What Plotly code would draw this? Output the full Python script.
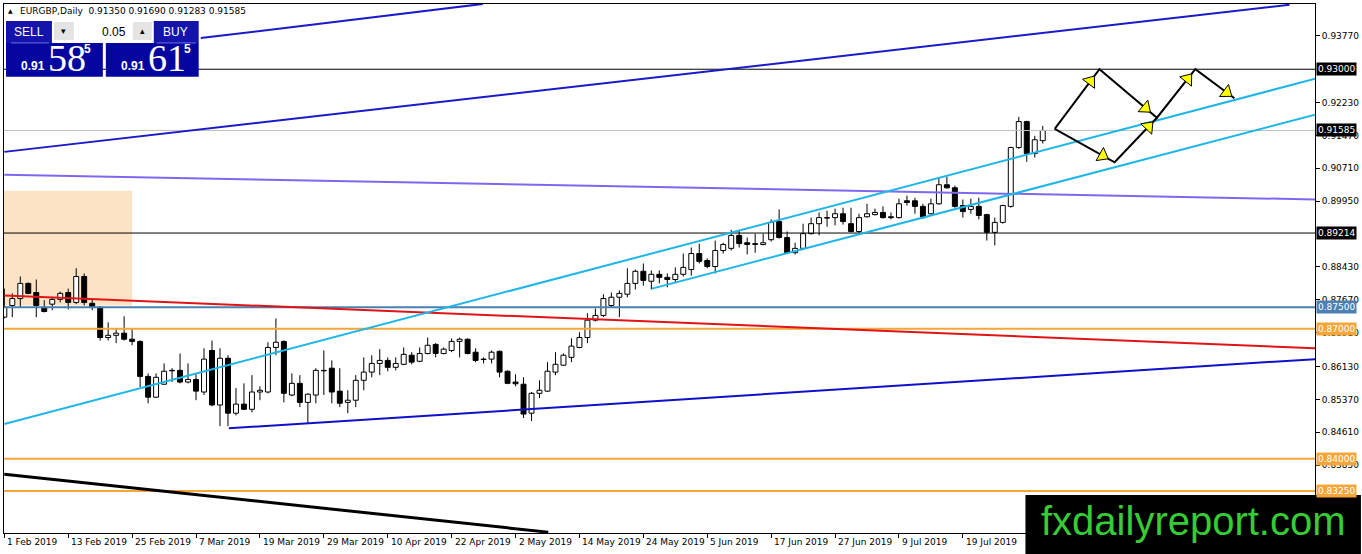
import math
import plotly.graph_objects as go

# EURGBP daily bars, 1 Feb 2019 .. 2 Aug 2019 (bar index 0..130)
open_ = [0.8727, 0.8754, 0.8770, 0.8805, 0.8784, 0.8750, 0.8757, 0.8768, 0.8784, 0.8761,
         0.8821, 0.8759, 0.8750, 0.8680, 0.8685, 0.8690, 0.8676, 0.8671, 0.8590, 0.8542,
         0.8572, 0.8604, 0.8604, 0.8577, 0.8583, 0.8554, 0.8650, 0.8524, 0.8632, 0.8505,
         0.8526, 0.8514, 0.8554, 0.8554, 0.8657, 0.8671, 0.8547, 0.8574, 0.8530, 0.8547,
         0.8603, 0.8609, 0.8556, 0.8530, 0.8535, 0.8581, 0.8600, 0.8620, 0.8627, 0.8611,
         0.8618, 0.8639, 0.8625, 0.8643, 0.8664, 0.8643, 0.8650, 0.8671, 0.8676, 0.8646,
         0.8630, 0.8630, 0.8648, 0.8602, 0.8577, 0.8572, 0.8505, 0.8551, 0.8556, 0.8600,
         0.8616, 0.8634, 0.8657, 0.8680, 0.8720, 0.8731, 0.8754, 0.8773, 0.8780, 0.8805,
         0.8833, 0.8810, 0.8826, 0.8819, 0.8814, 0.8826, 0.8837, 0.8874, 0.8858, 0.8844,
         0.8881, 0.8886, 0.8916, 0.8899, 0.8895, 0.8895, 0.8906, 0.8948, 0.8911, 0.8876,
         0.8886, 0.8920, 0.8943, 0.8957, 0.8957, 0.8966, 0.8943, 0.8925, 0.8959, 0.8964,
         0.8969, 0.8959, 0.8957, 0.8996, 0.8996, 0.8983, 0.8966, 0.8989, 0.9033, 0.9026,
         0.8985, 0.8976, 0.8983, 0.8964, 0.8923, 0.8946, 0.8983, 0.9119, 0.9179, 0.9105,
         0.91350]
high_ = [0.8793, 0.8782, 0.8821, 0.8807, 0.8814, 0.8766, 0.8773, 0.8786, 0.8793, 0.8840,
         0.8828, 0.8768, 0.8752, 0.8715, 0.8701, 0.8729, 0.8699, 0.8673, 0.8597, 0.8597,
         0.8620, 0.8609, 0.8643, 0.8620, 0.8595, 0.8655, 0.8673, 0.8655, 0.8639, 0.8563,
         0.8574, 0.8593, 0.8567, 0.8669, 0.8724, 0.8673, 0.8597, 0.8593, 0.8551, 0.8609,
         0.8650, 0.8627, 0.8609, 0.8558, 0.8593, 0.8634, 0.8639, 0.8653, 0.8634, 0.8634,
         0.8657, 0.8646, 0.8657, 0.8680, 0.8667, 0.8657, 0.8678, 0.8680, 0.8678, 0.8655,
         0.8634, 0.8650, 0.8650, 0.8604, 0.8595, 0.8588, 0.8554, 0.8581, 0.8623, 0.8646,
         0.8643, 0.8678, 0.8692, 0.8736, 0.8747, 0.8780, 0.8784, 0.8789, 0.8840, 0.8837,
         0.8851, 0.8835, 0.8835, 0.8828, 0.8842, 0.8874, 0.8888, 0.8897, 0.8863, 0.8904,
         0.8899, 0.8929, 0.8929, 0.8911, 0.8920, 0.8920, 0.8953, 0.8976, 0.8925, 0.8899,
         0.8943, 0.8957, 0.8969, 0.8973, 0.8978, 0.8980, 0.8980, 0.8966, 0.8989, 0.8978,
         0.8983, 0.8969, 0.9001, 0.9008, 0.9003, 0.8989, 0.9001, 0.9049, 0.9052, 0.9031,
         0.8999, 0.9001, 0.9003, 0.8966, 0.8957, 0.8987, 0.9121, 0.9190, 0.9181, 0.9146,
         0.91690]
low_ = [0.8724, 0.8727, 0.8750, 0.8780, 0.8727, 0.8738, 0.8743, 0.8761, 0.8745, 0.8757,
        0.8754, 0.8743, 0.8673, 0.8673, 0.8667, 0.8673, 0.8662, 0.8565, 0.8528, 0.8540,
        0.8570, 0.8577, 0.8574, 0.8574, 0.8535, 0.8547, 0.8521, 0.8475, 0.8475, 0.8500,
        0.8512, 0.8507, 0.8535, 0.8551, 0.8639, 0.8530, 0.8544, 0.8519, 0.8482, 0.8528,
        0.8547, 0.8528, 0.8519, 0.8505, 0.8519, 0.8558, 0.8588, 0.8593, 0.8602, 0.8604,
        0.8616, 0.8618, 0.8623, 0.8641, 0.8634, 0.8641, 0.8646, 0.8634, 0.8641, 0.8623,
        0.8620, 0.8620, 0.8588, 0.8572, 0.8567, 0.8494, 0.8487, 0.8540, 0.8554, 0.8593,
        0.8614, 0.8623, 0.8655, 0.8667, 0.8717, 0.8727, 0.8750, 0.8727, 0.8773, 0.8791,
        0.8800, 0.8791, 0.8805, 0.8796, 0.8807, 0.8821, 0.8823, 0.8851, 0.8840, 0.8828,
        0.8874, 0.8881, 0.8888, 0.8872, 0.8876, 0.8893, 0.8902, 0.8909, 0.8874, 0.8872,
        0.8883, 0.8918, 0.8916, 0.8936, 0.8939, 0.8941, 0.8923, 0.8920, 0.8957, 0.8962,
        0.8955, 0.8953, 0.8955, 0.8985, 0.8966, 0.8955, 0.8964, 0.8987, 0.9024, 0.8980,
        0.8957, 0.8966, 0.8953, 0.8904, 0.8893, 0.8943, 0.8980, 0.9116, 0.9086, 0.9096,
        0.91283]
close_ = [0.8750, 0.8770, 0.8805, 0.8782, 0.8754, 0.8740, 0.8768, 0.8782, 0.8761, 0.8821,
          0.8761, 0.8750, 0.8680, 0.8685, 0.8690, 0.8676, 0.8671, 0.8590, 0.8542, 0.8588,
          0.8602, 0.8603, 0.8577, 0.8583, 0.8556, 0.8630, 0.8524, 0.8632, 0.8505, 0.8526,
          0.8514, 0.8554, 0.8558, 0.8657, 0.8669, 0.8551, 0.8574, 0.8530, 0.8549, 0.8604,
          0.8604, 0.8554, 0.8528, 0.8535, 0.8581, 0.8600, 0.8620, 0.8627, 0.8611, 0.8620,
          0.8641, 0.8623, 0.8643, 0.8662, 0.8643, 0.8653, 0.8671, 0.8676, 0.8643, 0.8627,
          0.8629, 0.8646, 0.8600, 0.8574, 0.8573, 0.8503, 0.8551, 0.8558, 0.8602, 0.8618,
          0.8639, 0.8660, 0.8680, 0.8720, 0.8731, 0.8770, 0.8773, 0.8782, 0.8805, 0.8833,
          0.8812, 0.8826, 0.8819, 0.8814, 0.8826, 0.8842, 0.8874, 0.8856, 0.8844, 0.8881,
          0.8895, 0.8916, 0.8897, 0.8895, 0.8897, 0.8899, 0.8946, 0.8911, 0.8876, 0.8886,
          0.8920, 0.8943, 0.8957, 0.8956, 0.8966, 0.8948, 0.8925, 0.8957, 0.8966, 0.8969,
          0.8957, 0.8957, 0.8989, 0.8992, 0.8983, 0.8957, 0.8989, 0.9033, 0.9026, 0.8983,
          0.8971, 0.8983, 0.8962, 0.8923, 0.8946, 0.8985, 0.9119, 0.9179, 0.9105, 0.9137,
          0.91585]
bars = list(range(len(open_)))

# time axis labels (every 8th bar)
date_bars = [0, 8, 16, 24, 32, 40, 48, 56, 64, 72, 80, 88, 96, 104, 112, 120]
date_labels = ["1 Feb 2019", "13 Feb 2019", "25 Feb 2019", "7 Mar 2019", "19 Mar 2019",
               "29 Mar 2019", "10 Apr 2019", "22 Apr 2019", "2 May 2019", "14 May 2019",
               "24 May 2019", "5 Jun 2019", "17 Jun 2019", "27 Jun 2019", "9 Jul 2019",
               "19 Jul 2019"]

# price scale labels
price_ticks = [0.93770, 0.92230, 0.91470, 0.90710, 0.89950, 0.88430, 0.87670,
               0.86910, 0.86130, 0.85370, 0.84610, 0.83850]

# horizontal levels
level_prices = [0.93000, 0.91585, 0.89214, 0.87500, 0.87000, 0.84000, 0.83250]

# drawn trend lines: (bar index, price) end points
navy_top_x = [0, 160.9]
navy_top_y = [0.9109, 0.9449]
navy_top2_x = [24.6, 59.9]
navy_top2_y = [0.9372, 0.9451]
cyan_x = [0, 164.1]
cyan_y = [0.8480, 0.9278]
cyan2_x = [81.1, 164.1]
cyan2_y = [0.8793, 0.9195]
purple_x = [0, 164.1]
purple_y = [0.9056, 0.8999]
red_x = [0, 164.1]
red_y = [0.8777, 0.8655]
navy_low_x = [28.1, 164.1]
navy_low_y = [0.8470, 0.8630]
black_low_x = [0, 68.1]
black_low_y = [0.8364, 0.8230]
box_x = [-1, 16]
box_y = [0.8754, 0.9019]

# projected path (arrows)
path1_x = [131.5, 137.1, 144.3, 149.1, 154.0]
path1_y = [0.9162, 0.9300, 0.9188, 0.9300, 0.9233]
path2_x = [131.5, 139.0, 144.3]
path2_y = [0.9162, 0.9085, 0.9188]

# trade panel
bid_price = 0.91585
ask_price = 0.91615
lot_size = 0.05

W, H = 1362, 554
L, T, R, B = 3, 3, 46, 21
PW, PH = W - L - R, H - T - B
x_range = [-0.04, -0.04 + PW / 8]
y_range = [0.82281, 0.94508]


def px(x):
    return (x - L) / PW


def py(y):
    return 1 - (y - T) / PH


FONT = "DejaVu Sans"
ORANGE = "#f4a63a"

fig = go.Figure()

# candle bodies
fig.add_trace(go.Bar(
    x=bars,
    base=[min(o, c) for o, c in zip(open_, close_)],
    y=[abs(c - o) for o, c in zip(open_, close_)],
    width=0.62,
    marker=dict(color=["white" if c >= o else "black" for o, c in zip(open_, close_)],
                line=dict(color="black", width=1)),
))

# wicks
wx, wy = [], []
for i, o, h, l, c in zip(bars, open_, high_, low_, close_):
    wx += [i, i, None, i, i, None]
    wy += [h, max(o, c), None, min(o, c), l, None]
fig.add_trace(go.Scatter(x=wx, y=wy, mode="lines", line=dict(color="black", width=1)))

# level lines
level_styles = [("black", 1), ("#c0c0c0", 1), ("black", 1), ("#4a80b2", 2),
                (ORANGE, 2), (ORANGE, 2), (ORANGE, 2)]
for v, (col, w) in zip(level_prices, level_styles):
    fig.add_trace(go.Scatter(x=x_range, y=[v, v], mode="lines", line=dict(color=col, width=w)))

# trend lines
for xs, ys, col, w in [
    (navy_top_x, navy_top_y, "#1a1ac8", 2),
    (navy_top2_x, navy_top2_y, "#1a1ac8", 2),
    (purple_x, purple_y, "#7b68ee", 2),
    (red_x, red_y, "#e01414", 2),
    (navy_low_x, navy_low_y, "#1010c8", 2),
    (black_low_x, black_low_y, "black", 3),
    (cyan_x, cyan_y, "#1eb6e8", 2),
    (cyan2_x, cyan2_y, "#1eb6e8", 2),
]:
    fig.add_trace(go.Scatter(x=xs, y=ys, mode="lines", line=dict(color=col, width=w)))

# projected path with yellow arrowheads
for xs, ys in [(path1_x, path1_y), (path2_x, path2_y)]:
    fig.add_trace(go.Scatter(x=xs, y=ys, mode="lines", line=dict(color="black", width=2)))

sx = PW / (x_range[1] - x_range[0])
sy = PH / (y_range[1] - y_range[0])
ax, ay, ang = [], [], []
for xs, ys in [(path1_x, path1_y), (path2_x, path2_y)]:
    for k in range(len(xs) - 1):
        dx = (xs[k + 1] - xs[k]) * sx
        dy = (ys[k + 1] - ys[k]) * sy
        ax.append(xs[k] + 0.8 * (xs[k + 1] - xs[k]))
        ay.append(ys[k] + 0.8 * (ys[k + 1] - ys[k]))
        ang.append(math.degrees(math.atan2(dx, dy)))
fig.add_trace(go.Scatter(
    x=ax, y=ay, mode="markers",
    marker=dict(symbol="triangle-up", size=13, angle=ang, color="#ffff00",
                line=dict(color="black", width=1)),
))

shapes = [
    dict(type="rect", xref="x", yref="y", x0=box_x[0], x1=box_x[1], y0=box_y[0], y1=box_y[1],
         fillcolor="#fde3c6", line=dict(width=0), layer="below"),
]

# watermark box
shapes.append(dict(type="rect", xref="paper", yref="paper", x0=px(1026), x1=px(1362),
                   y0=py(495), y1=py(554), fillcolor="black", line=dict(width=0), layer="above"))

# trade panel
panel = [
    ((5, 20, 51, 42), "#1414ac"),
    ((153, 20, 198, 42), "#1414ac"),
    ((5, 42, 102, 76), "#0505a0"),
    ((105, 42, 198, 76), "#0505a0"),
    ((52, 20, 152, 40), "white"),
    ((53, 21, 73, 39), "#e4e4e4"),
    ((132, 21, 151, 39), "#e4e4e4"),
]
for (x0, y0, x1, y1), col in panel:
    shapes.append(dict(type="rect", xref="paper", yref="paper", x0=px(x0), x1=px(x1),
                       y0=py(y1), y1=py(y0), fillcolor=col, line=dict(width=0), layer="above"))
for x0, x1 in [(10, 48), (156, 195)]:
    shapes.append(dict(type="line", xref="paper", yref="paper", x0=px(x0), x1=px(x1),
                       y0=py(42), y1=py(42), line=dict(color="#7070e0", width=1), layer="above"))

annotations = []
for b, lab in zip(date_bars, date_labels):
    annotations.append(dict(x=b, xref="x", y=py(542), yref="paper", text=lab, showarrow=False,
                            xanchor="left", yanchor="middle", xshift=1,
                            font=dict(family=FONT, size=9, color="black")))

level_bg = ["black", "black", "black", "#4a80b2", ORANGE, ORANGE, ORANGE]
for v, col in zip(level_prices, level_bg):
    annotations.append(dict(x=1, xref="paper", y=v, yref="y", text=f"{v:.5f}", showarrow=False,
                            xanchor="left", yanchor="middle", xshift=1, bgcolor=col,
                            borderpad=1, font=dict(family=FONT, size=9, color="white")))

annotations.append(dict(x=px(5), y=py(10), xref="paper", yref="paper", text="▲",
                        showarrow=False, xanchor="left", yanchor="middle",
                        font=dict(family=FONT, size=6, color="black")))
annotations.append(dict(
    x=px(17), y=py(10), xref="paper", yref="paper", showarrow=False,
    xanchor="left", yanchor="middle",
    text=f"EURGBP,Daily  {open_[-1]:.5f} {high_[-1]:.5f} {low_[-1]:.5f} {close_[-1]:.5f}",
    font=dict(family=FONT, size=9, color="black")))


def txt(x, y, s, size, color="white", family="Liberation Sans", anchor="center"):
    annotations.append(dict(x=px(x), y=py(y), xref="paper", yref="paper", text=s,
                            showarrow=False, xanchor=anchor, yanchor="middle",
                            font=dict(family=family, size=size, color=color)))


txt(28, 31, "SELL", 12)
txt(175, 31, "BUY", 12)
txt(127, 31, f"{lot_size:.2f}", 12, color="black", anchor="right")
txt(63, 30, "▾", 9, color="black")
txt(142, 30, "▴", 9, color="black")
for p, cx in [(bid_price, 5), (ask_price, 105)]:
    s = f"{p:.5f}"
    txt(cx + 27, 65, "<b>" + s[:4] + "</b>", 12)
    txt(cx + 61, 57, s[4:6], 38, family="Liberation Sans Narrow")
    txt(cx + 82, 48, "<b>" + s[6] + "</b>", 12)

annotations.append(dict(x=px(1194), y=py(521), xref="paper", yref="paper",
                        text="fxdailyreport.com", showarrow=False,
                        xanchor="center", yanchor="middle",
                        font=dict(family="Liberation Sans", size=40, color="#35cc35")))

fig.update_layout(
    width=W, height=H,
    margin=dict(l=L, r=R, t=T, b=B),
    paper_bgcolor="white", plot_bgcolor="white",
    showlegend=False, hovermode=False,
    shapes=shapes, annotations=annotations,
    xaxis=dict(range=x_range, showgrid=False, zeroline=False, showline=True, mirror=True,
               linecolor="black", linewidth=1, tickvals=date_bars, ticks="outside",
               ticklen=4, tickcolor="black", showticklabels=False),
    yaxis=dict(range=y_range, side="right", showgrid=False, zeroline=False, showline=True,
               mirror=True, linecolor="black", linewidth=1, tickvals=price_ticks,
               ticktext=[f"{v:.5f}" for v in price_ticks], ticks="outside", ticklen=4,
               tickcolor="black", tickfont=dict(family=FONT, size=9, color="black")),
)

# page has a default 8px body margin; drop it so the chart fills the window
fig.write_html("out.html", config={"displayModeBar": False},
               post_script="document.body.style.margin='0';")
